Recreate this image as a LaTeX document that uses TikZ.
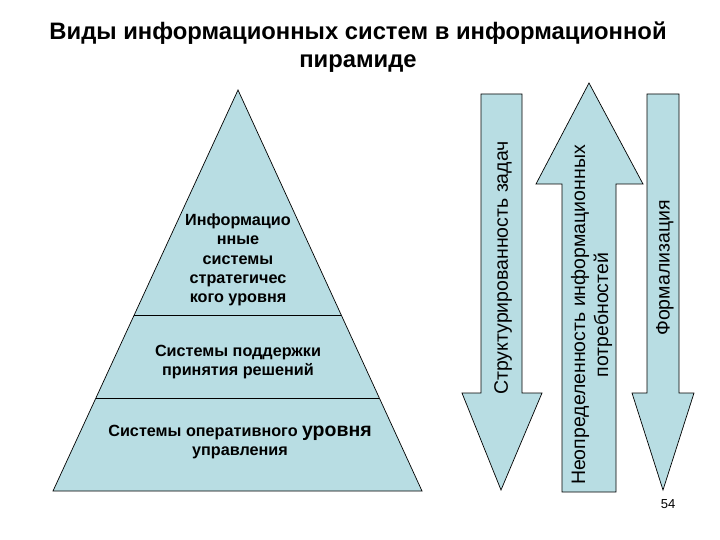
\documentclass[tikz,border=0pt]{standalone}
\usepackage{fontspec}
\setmainfont{Liberation Sans}
\usetikzlibrary{calc}
\definecolor{pyrblue}{RGB}{184,221,227}
\tikzset{
  shapeline/.style={draw=black, line width=0.7pt, fill=pyrblue, line join=miter},
  pyrtext/.style={font=\fontsize{16.2}{19.3}\selectfont\bfseries, align=center, inner sep=0pt},
  arrtext/.style={font=\fontsize{19.5}{23}\selectfont, align=center, inner sep=0pt, rotate=90},
  titletext/.style={font=\fontsize{23.8}{28}\selectfont\bfseries, align=center, inner sep=0pt}
}
\begin{document}
\begin{tikzpicture}[x=1pt, y=-1pt]
\useasboundingbox (0,0) rectangle (720,540);
\fill[white] (0,0) rectangle (720,540);
% title
\node[titletext] (title) at (358,47) {Виды информационных систем в информационной\\пирамиде};
% pyramid
\coordinate (apex) at (238,90);
\coordinate (bl) at (53,491);
\coordinate (br) at (422,491);
\draw[shapeline] (apex) -- (br) -- (bl) -- cycle;
\draw[line width=0.7pt] ($(apex)!0.561!(bl)$) -- ($(apex)!0.561!(br)$);
\draw[line width=0.7pt] ($(apex)!0.768!(bl)$) -- ($(apex)!0.768!(br)$);
\node[pyrtext] (strat) at (238,260) {Информацио\\нные\\системы\\стратегичес\\кого уровня};
\node[pyrtext] (dss) at (238,362) {Системы поддержки\\принятия решений};
\node[pyrtext] (oper) at (240,442) {Системы оперативного {\fontsize{19.5}{19.3}\selectfont уровня}\\управления};
% left arrow (down)
\coordinate (a1tl) at (481,94);
\coordinate (a1tr) at (522,94);
\coordinate (a1hr) at (542,393);
\coordinate (a1hl) at (462,393);
\coordinate (a1tip) at (501,490);
\draw[shapeline] (a1tl) -- (a1tr) -- (a1tr |- a1hr) -- (a1hr) -- (a1tip) -- (a1hl) -- (a1tl |- a1hl) -- cycle;
% middle arrow (up)
\coordinate (a2tip) at (589,83);
\coordinate (a2hl) at (536,184);
\coordinate (a2hr) at (643,184);
\coordinate (a2bl) at (562,492);
\coordinate (a2br) at (616,492);
\draw[shapeline] (a2tip) -- (a2hr) -- (a2br |- a2hr) -- (a2br) -- (a2bl) -- (a2bl |- a2hl) -- (a2hl) -- cycle;
% right arrow (down)
\coordinate (a3tl) at (647,94);
\coordinate (a3tr) at (679,94);
\coordinate (a3hr) at (694,393);
\coordinate (a3hl) at (632,393);
\coordinate (a3tip) at (663,490);
\draw[shapeline] (a3tl) -- (a3tr) -- (a3tr |- a3hr) -- (a3hr) -- (a3tip) -- (a3hl) -- (a3tl |- a3hl) -- cycle;
% arrow texts
\node[arrtext] (struct) at (503,268) {Структурированность задач};
\node[arrtext] (uncert) at (591.5,315) {Неопределенность информационных\\потребностей};
\node[arrtext] (formal) at (665,268) {Формализация};
% page number
\node[font=\fontsize{13}{15}\selectfont, inner sep=0pt] (page) at (668,504) {54};
\end{tikzpicture}
\end{document}
